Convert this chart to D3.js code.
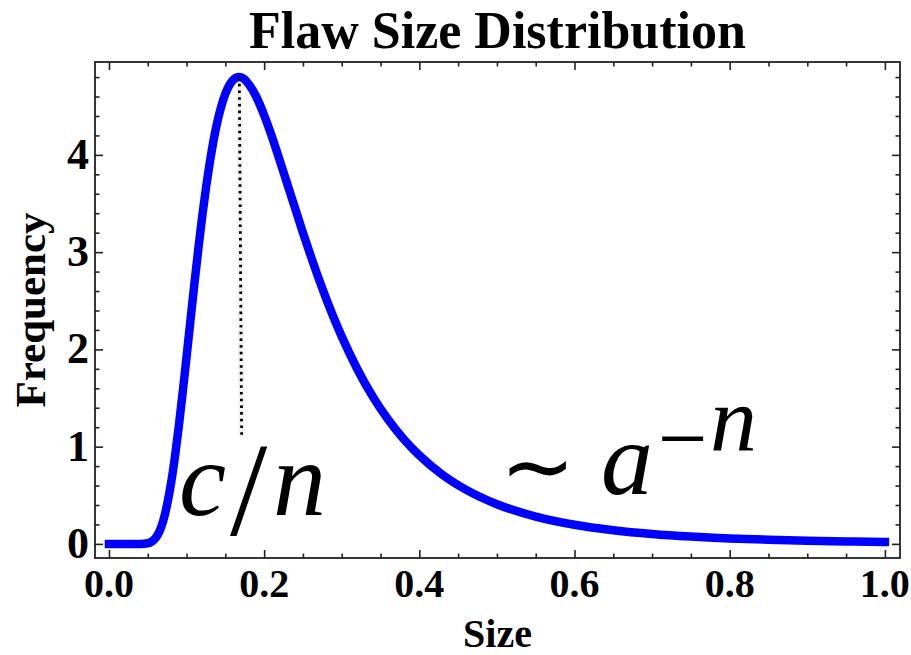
<!DOCTYPE html>
<html>
<head>
<meta charset="utf-8">
<script src="https://cdn.jsdelivr.net/npm/d3@7"></script>
<style>
  body { margin: 0; background: #fff; }
  svg { display: block; }
</style>
</head>
<body>
<svg id="chart" width="911" height="655"></svg>
<script>
// Flaw size density: sampled points (size, frequency)
const sizeValues = [
  0.000, 0.030, 0.040, 0.050, 0.055, 0.060, 0.065, 0.070, 0.075, 0.080,
  0.085, 0.090, 0.095, 0.100, 0.105, 0.110, 0.115, 0.120, 0.125, 0.130,
  0.135, 0.140, 0.145, 0.150, 0.155, 0.160, 0.1675, 0.175, 0.180, 0.190,
  0.200, 0.210, 0.220, 0.230, 0.240, 0.250, 0.260, 0.270, 0.280, 0.290,
  0.300, 0.320, 0.340, 0.360, 0.380, 0.400, 0.430, 0.460, 0.500, 0.550,
  0.600, 0.650, 0.700, 0.750, 0.800, 0.850, 0.900, 0.950, 1.000
];
const freqValues = [
  0.000, 0.000, 0.000, 0.007, 0.023, 0.059, 0.128, 0.240, 0.406, 0.623,
  0.894, 1.209, 1.556, 1.922, 2.297, 2.667, 3.022, 3.355, 3.657, 3.923,
  4.157, 4.351, 4.506, 4.629, 4.715, 4.770, 4.800, 4.775, 4.728, 4.595,
  4.408, 4.188, 3.945, 3.697, 3.449, 3.200, 2.963, 2.735, 2.521, 2.319,
  2.133, 1.799, 1.514, 1.276, 1.076, 0.910, 0.710, 0.558, 0.408, 0.281,
  0.197, 0.141, 0.102, 0.075, 0.056, 0.043, 0.033, 0.025, 0.020
];

// Dotted marker dropped from the mode
const modeLineX = [0.168, 0.171];
const modeLineY = [4.80, 1.10];

// Axis ticks and labels
const xMajorTicks = [0.0, 0.2, 0.4, 0.6, 0.8, 1.0];
const xTickLabels = ["0.0", "0.2", "0.4", "0.6", "0.8", "1.0"];
const xMinorTicks = [0.05, 0.10, 0.15, 0.25, 0.30, 0.35, 0.45, 0.50, 0.55, 0.65, 0.70, 0.75, 0.85, 0.90, 0.95];
const yMajorTicks = [0, 1, 2, 3, 4];
const yTickLabels = ["0", "1", "2", "3", "4"];
const yMinorTicks = [0.2, 0.4, 0.6, 0.8, 1.2, 1.4, 1.6, 1.8, 2.2, 2.4, 2.6, 2.8, 3.2, 3.4, 3.6, 3.8, 4.2, 4.4, 4.6, 4.8];

const titleText = "Flaw Size Distribution";
const xAxisTitle = "Size";
const yAxisTitle = "Frequency";

const svg = d3.select("#chart");
const frame = { left: 95, right: 900, top: 62, bottom: 558 };

const x = d3.scaleLinear().domain([-0.018, 1.0195]).range([frame.left, frame.right]);
const y = d3.scaleLinear().domain([-0.145, 4.955]).range([frame.bottom, frame.top]);

const serif = "'Liberation Serif', 'Times New Roman', serif";
const frameColor = "#222";

// Frame ticks (pointing inward on all four sides)
function tickGroup(axisFn, scale, ticks, size, transform) {
  const g = svg.append("g").attr("transform", transform)
    .call(axisFn(scale).tickValues(ticks).tickSizeInner(size).tickSizeOuter(0).tickFormat(""));
  g.select(".domain").remove();
  g.selectAll(".tick line").attr("stroke", frameColor).attr("stroke-width", 1.6);
  return g;
}
tickGroup(d3.axisBottom, x, xMajorTicks, -8, `translate(0,${frame.bottom})`);
tickGroup(d3.axisBottom, x, xMinorTicks, -4.5, `translate(0,${frame.bottom})`);
tickGroup(d3.axisTop, x, xMajorTicks, -8, `translate(0,${frame.top})`);
tickGroup(d3.axisTop, x, xMinorTicks, -4.5, `translate(0,${frame.top})`);
tickGroup(d3.axisLeft, y, yMajorTicks, -8, `translate(${frame.left},0)`);
tickGroup(d3.axisLeft, y, yMinorTicks, -4.5, `translate(${frame.left},0)`);
tickGroup(d3.axisRight, y, yMajorTicks, -8, `translate(${frame.right},0)`);
tickGroup(d3.axisRight, y, yMinorTicks, -4.5, `translate(${frame.right},0)`);

// Frame box
svg.append("rect")
  .attr("x", frame.left).attr("y", frame.top)
  .attr("width", frame.right - frame.left).attr("height", frame.bottom - frame.top)
  .attr("fill", "none").attr("stroke", frameColor).attr("stroke-width", 1.8);

// Tick labels
svg.append("g").selectAll("text").data(xMajorTicks).join("text")
  .attr("x", d => x(d)).attr("y", 597)
  .attr("text-anchor", "middle")
  .attr("font-family", serif).attr("font-weight", "bold").attr("font-size", 40)
  .attr("fill", "#000")
  .text((d, i) => xTickLabels[i]);

svg.append("g").selectAll("text").data(yMajorTicks).join("text")
  .attr("x", 89).attr("y", d => y(d) + 14)
  .attr("text-anchor", "end")
  .attr("font-family", serif).attr("font-weight", "bold").attr("font-size", 44)
  .attr("fill", "#000")
  .text((d, i) => yTickLabels[i]);

// Titles
svg.append("text")
  .attr("x", (frame.left + frame.right) / 2).attr("y", 48)
  .attr("text-anchor", "middle")
  .attr("font-family", serif).attr("font-weight", "bold").attr("font-size", 52)
  .text(titleText);

svg.append("text")
  .attr("x", (frame.left + frame.right) / 2).attr("y", 647)
  .attr("text-anchor", "middle")
  .attr("font-family", serif).attr("font-weight", "bold").attr("font-size", 40)
  .text(xAxisTitle);

svg.append("text")
  .attr("transform", `translate(45,${(frame.top + frame.bottom) / 2}) rotate(-90)`)
  .attr("text-anchor", "middle")
  .attr("font-family", serif).attr("font-weight", "bold").attr("font-size", 43)
  .text(yAxisTitle);

// Density curve
const points = sizeValues.map((s, i) => [s, freqValues[i]]);
const line = d3.line().x(d => x(d[0])).y(d => y(d[1])).curve(d3.curveMonotoneX);
svg.append("path")
  .attr("d", line(points))
  .attr("fill", "none")
  .attr("stroke", "#0000ff")
  .attr("stroke-width", 8.5)
  .attr("stroke-linecap", "square")
  .attr("stroke-linejoin", "round");

// Dotted line marking the mode (faint halo under black dots)
svg.append("line")
  .attr("x1", x(modeLineX[0])).attr("y1", y(modeLineY[0]))
  .attr("x2", x(modeLineX[1])).attr("y2", y(modeLineY[1]))
  .attr("stroke", "#000").attr("stroke-opacity", 0.05).attr("stroke-width", 6);
svg.append("line")
  .attr("x1", x(modeLineX[0])).attr("y1", y(modeLineY[0]))
  .attr("x2", x(modeLineX[1])).attr("y2", y(modeLineY[1]))
  .attr("stroke", "#000").attr("stroke-width", 2.8)
  .attr("stroke-dasharray", "2.6,4.1");

// Annotations: mode position c/n and power-law tail ~ a^-n
const modeLabel = svg.append("text").attr("fill", "#000").attr("font-family", serif);
modeLabel.append("tspan").attr("x", 179).attr("y", 515)
  .attr("font-style", "italic").attr("font-size", 106).text("c");
modeLabel.append("tspan").attr("x", 230).attr("y", 535)
  .attr("font-size", 134).text("/");
modeLabel.append("tspan").attr("x", 273).attr("y", 515)
  .attr("font-style", "italic").attr("font-size", 106).text("n");

const tailLabel = svg.append("text").attr("fill", "#000").attr("font-family", serif);
tailLabel.append("tspan").attr("x", 500).attr("y", 497)
  .attr("font-family", "'DejaVu Sans', sans-serif").attr("font-size", 90).text("∼");
tailLabel.append("tspan").attr("x", 601).attr("y", 494)
  .attr("font-style", "italic").attr("font-size", 104).text("a");
tailLabel.append("tspan").attr("x", 658).attr("y", 468)
  .attr("font-size", 88).text("−");
tailLabel.append("tspan").attr("x", 710).attr("y", 451)
  .attr("font-style", "italic").attr("font-size", 94).text("n");
</script>
</body>
</html>
